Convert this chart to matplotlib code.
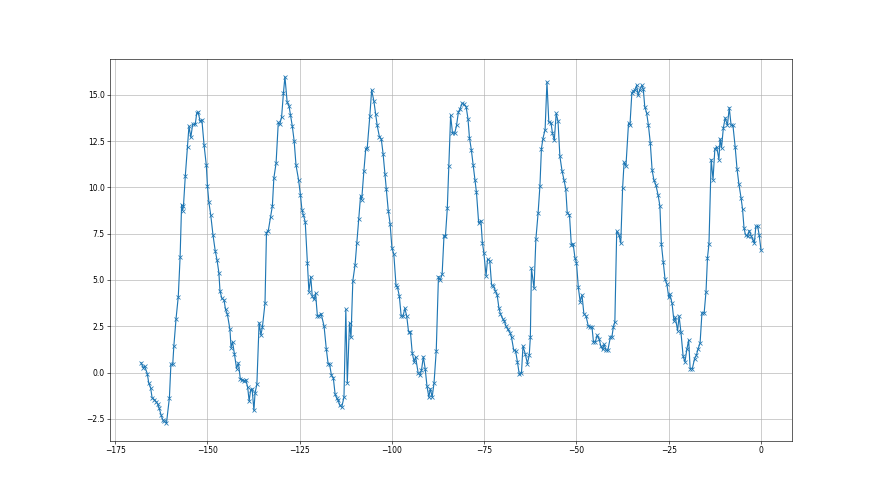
import matplotlib
matplotlib.use("Agg")
import matplotlib.pyplot as plt

# hours relative to now, temperature readings
hours = [
    -168.0, -167.4, -167.0, -166.3, -165.9, -165.4, -165.0, -164.4, -163.9, -163.5,
    -163.1, -162.6, -162.1, -161.7, -161.1, -160.3, -159.9, -159.4, -159.1, -158.5,
    -157.9, -157.4, -157.0, -156.7, -156.5, -156.0, -155.4, -155.0, -154.5, -154.0,
    -153.3, -152.9, -152.5, -152.0, -151.5, -150.9, -150.3, -150.0, -149.6, -149.1,
    -148.5, -147.9, -147.4, -146.9, -146.6, -146.1, -145.5, -145.1, -144.6, -143.9,
    -143.6, -143.2, -142.7, -142.1, -141.6, -141.1, -140.5, -140.0, -139.6, -139.1,
    -138.7, -138.3, -137.9, -137.4, -137.1, -136.6,
    -136.0, -135.5, -135.1, -134.4, -134.0, -133.5, -132.9, -132.4, -132.0, -131.4,
    -130.8, -130.4, -129.9, -129.4, -129.0, -128.4, -127.9, -127.5, -127.0, -126.5,
    -126.0, -125.3, -124.8, -124.4, -124.0, -123.5, -122.9, -122.5, -122.0, -121.6,
    -121.1, -120.7, -120.2, -119.7, -119.2, -118.4, -117.8, -117.3, -116.9, -116.4,
    -115.9, -115.4, -115.0, -114.6, -114.1, -113.6, -113.0, -112.5, -112.1, -111.5,
    -111.1, -110.6, -110.0, -109.5, -109.0, -108.5, -108.2, -107.6, -107.1, -106.7,
    -106.0, -105.5, -104.9, -104.4, -104.0, -103.4, -102.9, -102.4, -101.9, -101.5,
    -101.0, -100.5, -100.0, -99.5, -98.9, -98.5, -98.0, -97.5, -97.0, -96.5,
    -96.0, -95.5, -95.0, -94.5, -94.0, -93.6, -92.9, -92.4, -92.0, -91.5,
    -91.0, -90.5, -90.0, -89.6, -89.1, -88.6, -88.0, -87.4, -86.9, -86.4,
    -85.9, -85.5, -85.0, -84.6, -84.1, -83.6, -83.0, -82.5, -82.0, -81.6,
    -81.0, -80.5, -79.9, -79.4, -79.0, -78.5, -78.0, -77.5, -77.1, -76.5,
    -75.9, -75.5, -75.1, -74.5, -74.1, -73.5, -73.0, -72.5, -72.0, -71.5,
    -71.0, -70.6, -70.0, -69.6, -69.1, -68.6, -68.0, -67.6, -67.0, -66.5,
    -66.0, -65.5, -64.9, -64.5, -63.9, -63.3, -62.8, -62.5, -62.2, -61.5,
    -61.0, -60.4, -59.9, -59.5, -59.1, -58.5, -58.0, -57.5, -56.9, -56.5,
    -56.0, -55.5, -55.0, -54.5, -53.9, -53.4, -52.9, -52.5, -51.9, -51.4,
    -50.9, -50.4, -50.0, -49.5, -49.0, -48.5, -48.0, -47.4, -46.8, -46.3,
    -45.8, -45.4, -44.9, -44.4, -43.9, -43.4, -42.9, -42.5, -42.0, -41.5,
    -40.8, -40.4, -40.0, -39.6, -39.1, -38.5, -38.0, -37.5, -37.1, -36.6,
    -35.9, -35.5, -35.0, -34.6, -34.2, -33.7, -33.3, -32.9, -32.3, -31.9,
    -31.5, -31.0, -30.5, -30.0, -29.5, -29.0, -28.5, -27.9, -27.4, -27.0,
    -26.5, -26.0, -25.5, -25.0, -24.7, -24.1, -23.6, -23.2, -22.6, -22.2,
    -21.7, -21.1, -20.6, -20.1, -19.6, -19.2, -18.6, -18.0, -17.5, -17.1,
    -16.5, -16.0, -15.4, -14.9, -14.5, -14.1, -13.5, -13.0, -12.5, -12.0,
    -11.4, -11.1, -10.7, -10.2, -9.7, -9.1, -8.6, -8.1, -7.6, -7.0,
    -6.5, -6.0, -5.4, -5.0, -4.6, -4.2, -3.6, -3.2, -2.6, -2.2,
    -1.8, -1.4, -0.9, -0.5, 0.0,
]

temps = [
    0.54, 0.27, 0.34, -0.05, -0.56, -0.81, -1.35, -1.46, -1.57, -1.68,
    -1.90, -2.26, -2.55, -2.62, -2.73, -1.35, 0.45, 0.45, 1.43, 2.92,
    4.10, 6.26, 9.06, 8.75, 8.97, 10.6, 12.2, 13.3, 12.7, 13.4,
    13.4, 14.0, 14.06, 13.57, 13.63, 12.26, 11.19, 10.09, 9.19, 8.50,
    7.44, 6.59, 6.08, 5.40, 4.42, 4.01, 3.92, 3.41, 3.16, 2.33,
    1.35, 1.66, 1.03, 0.22, 0.52, -0.32, -0.38, -0.45, -0.38, -0.78,
    -1.53, -0.96, -0.87, -2.04, -1.10, -0.63,
    2.69, 2.02, 2.47, 3.74, 7.56, 7.67, 8.39, 9.0, 10.5, 11.3,
    13.5, 13.4, 13.8, 15.1, 15.97, 14.6, 14.4, 13.9, 13.3, 12.5,
    11.2, 10.4, 9.6, 8.8, 8.5, 8.14, 5.90, 4.37, 5.18, 4.13,
    3.95, 4.28, 3.05, 3.05, 3.19, 2.51, 1.30, 0.49, 0.45, -0.14,
    -0.27, -1.17, -1.35, -1.50, -1.77, -1.86, -1.32, 3.41, -0.56, 2.69,
    1.90, 4.96, 5.81, 7.02, 8.29, 9.55, 9.33, 10.9, 12.08, 12.13,
    13.84, 15.25, 14.66, 13.94, 13.34, 12.73, 12.62, 11.81, 10.74, 9.93,
    8.75, 8.03, 6.71, 6.41, 4.71, 4.60, 4.13, 3.05, 3.05, 3.47,
    3.05, 2.20, 2.20, 1.06, 0.58, 0.85, -0.02, -0.14, 0.13, 0.85,
    0.22, -0.74, -1.32, -0.87, -1.32, -0.56, 1.17, 5.18, 5.0, 5.32,
    7.38, 7.38, 8.88, 11.14, 13.88, 12.94, 12.91, 13.34, 14.06, 14.21,
    14.53, 14.48, 14.35, 13.7, 12.67, 12.04, 11.23, 10.42, 9.73, 8.07,
    8.21, 7.02, 6.48, 5.22, 6.12, 6.05, 4.73, 4.67, 4.42, 4.19,
    3.47, 3.16, 2.92, 2.80, 2.51, 2.33, 2.15, 1.90, 1.21, 1.17,
    0.58, -0.09, -0.02, 1.43, 1.03, 0.49, 0.94, 1.90, 5.63, 4.55,
    7.2, 8.61, 10.09, 12.08, 12.62, 13.12, 15.69, 13.52, 13.48, 12.91,
    12.55, 13.99, 13.57, 11.68, 10.87, 10.42, 9.91, 8.61, 8.52, 6.90,
    6.95, 6.17, 5.94, 4.60, 3.83, 4.19, 3.18, 3.05, 2.51, 2.47,
    2.47, 1.66, 1.66, 2.02, 1.84, 1.43, 1.25, 1.53, 1.21, 1.21,
    1.93, 1.93, 2.47, 2.74, 7.62, 7.44, 6.99, 9.96, 11.35, 11.14,
    13.45, 13.39, 15.07, 15.2, 15.25, 15.5, 14.96, 15.25, 15.5, 15.32,
    14.35, 14.03, 13.34, 12.4, 10.92, 10.38, 10.14, 9.6, 9.0, 6.95,
    5.99, 5.04, 4.78, 4.06, 4.24, 3.74, 2.80, 2.98, 2.26, 3.05,
    2.20, 0.88, 0.58, 1.25, 1.75, 0.22, 0.22, 0.76, 0.94, 1.25,
    1.61, 3.23, 3.23, 4.37, 6.21, 6.95, 11.5, 10.42, 12.08, 12.18,
    11.5, 12.62, 12.13, 13.21, 13.75, 13.34, 14.3, 13.34, 13.34, 12.18,
    11.0, 10.2, 9.42, 8.83, 7.8, 7.44, 7.35, 7.67, 7.35, 7.17,
    6.99, 7.89, 7.89, 7.44, 6.62,
]

fig, ax = plt.subplots(figsize=(16, 9), dpi=55)
ax.plot(hours, temps, marker='x')
ax.grid(True)

plt.savefig("out.png", dpi=55)
